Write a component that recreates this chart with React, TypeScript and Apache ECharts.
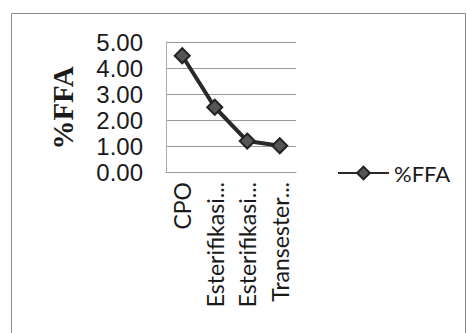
import React, { useEffect, useRef } from "react";
import * as echarts from "echarts";

const categories = ["CPO", "Esterifikasi 1", "Esterifikasi 2", "Transesterifikasi"];
const tickLabels = ["CPO", "Esterifikasi...", "Esterifikasi...", "Transester..."];
const ffaValues = [4.47, 2.49, 1.19, 1.01];
const seriesName = "%FFA";
const axisTitle = "%FFA";

export default function App() {
  const ref = useRef<HTMLDivElement>(null);
  useEffect(() => {
    if (!ref.current) return;
    const chart = echarts.init(ref.current, null, { renderer: "svg" });
    chart.setOption({
      animation: false,
      backgroundColor: "#ffffff",
      graphic: [
        {
          type: "rect",
          shape: { x: 11.5, y: 13.5, width: 454, height: 340 },
          style: { fill: "none", stroke: "#8a8a8a", lineWidth: 1 },
          silent: true,
        },
        {
          type: "text",
          x: 63,
          y: 108,
          rotation: Math.PI / 2,
          style: {
            text: axisTitle,
            font: "bold 29px 'Liberation Serif', 'Times New Roman', serif",
            fill: "#1a1a1a",
            textAlign: "center",
            textVerticalAlign: "middle",
          },
        },
      ],
      legend: {
        left: 332,
        top: 157,
        itemWidth: 51,
        itemHeight: 16,
        itemGap: 6,
        textStyle: {
          fontFamily: "Lato, 'Open Sans', sans-serif",
          fontSize: 22,
          color: "#1a1a1a",
        },
        data: [seriesName],
      },
      grid: { left: 166, top: 42, width: 130, height: 130, containLabel: false },
      xAxis: {
        type: "category",
        data: categories,
        boundaryGap: true,
        axisLine: { show: true, lineStyle: { color: "#999", width: 1 } },
        axisTick: { show: false },
        axisLabel: {
          rotate: 90,
          margin: 10,
          interval: 0,
          fontFamily: "Lato, 'Open Sans', sans-serif",
          fontSize: 23,
          color: "#1a1a1a",
          formatter: (_v: string, i: number) => tickLabels[i],
        },
      },
      yAxis: {
        type: "value",
        min: 0,
        max: 5,
        interval: 1,
        axisLine: { show: true, lineStyle: { color: "#aaa", width: 1 } },
        axisTick: { show: false },
        splitLine: { show: true, lineStyle: { color: "#9a9a9a", width: 1 } },
        axisLabel: {
          margin: 23,
          fontFamily: "'Liberation Sans', Arial, sans-serif",
          fontSize: 24,
          color: "#1a1a1a",
          formatter: (v: number) => v.toFixed(2),
        },
      },
      series: [
        {
          name: seriesName,
          type: "line",
          data: ffaValues,
          symbol: "diamond",
          symbolSize: 15,
          lineStyle: { color: "#2a2a2a", width: 4 },
          itemStyle: { color: "#555", borderColor: "#222", borderWidth: 2 },
        },
      ],
    });
    return () => chart.dispose();
  }, []);
  return (
    <div
      ref={ref}
      style={{ position: "fixed", left: 0, top: 0, width: 467, height: 333 }}
    />
  );
}
